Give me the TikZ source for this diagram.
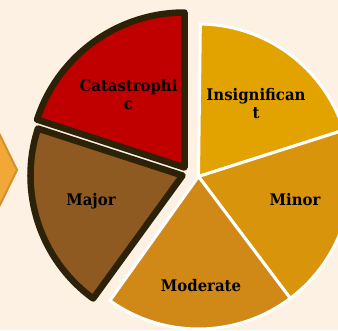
\documentclass[tikz,border=0pt]{standalone}
\usepackage{fontspec}
\setmainfont{DejaVu Serif}
\newfontfamily\labelfont[FakeStretch=0.93]{DejaVu Serif}
\definecolor{paper}{HTML}{FCF1E3}
\definecolor{insig}{HTML}{E2A300}
\definecolor{minorc}{HTML}{D8940A}
\definecolor{moder}{HTML}{D08917}
\definecolor{majorc}{HTML}{8E5A21}
\definecolor{catas}{HTML}{C00000}
\definecolor{rim}{HTML}{2D2207}
\definecolor{tabfill}{HTML}{F2A836}
\definecolor{tabedge}{HTML}{D5902A}
\tikzset{
  plainslice/.style={draw=white, line width=3pt, line join=miter},
  boldslice/.style={draw=rim, line width=6.5pt, line join=round},
  lbl/.style={inner sep=0pt, align=center, text=black,
              font=\labelfont\bfseries\fontsize{16}{18.3}\selectfont}
}
\begin{document}
\begin{tikzpicture}[x=1pt,y=1pt]
  \useasboundingbox (0,0) rectangle (338,-330);
  \clip (0,0) rectangle (338,-330);
  \fill[paper] (0,0) rectangle (338,-330);

  % arrow tab at the left edge
  \draw[fill=tabfill, draw=tabedge, line width=2pt, line join=miter]
    (-40,-94) -- (-20,-94) -- (17,-170) -- (-20,-246) -- (-40,-246) -- cycle;

  % centres of the pie pieces
  \coordinate (C) at (198.5,-176.5);
  \coordinate (Cmaj) at (182.5,-175.5);
  \coordinate (Ccat) at (184.5,-167.5);

  % pieces that stay in place
  \draw[plainslice, fill=insig]  (C) -- ++(89.3:152.5)  arc[start angle=89.3,  end angle=17.7,   radius=152.5] -- cycle;
  \draw[plainslice, fill=minorc] (C) -- ++(17.7:152.5)  arc[start angle=17.7,  end angle=-53,    radius=152.5] -- cycle;
  \draw[plainslice, fill=moder]  (C) -- ++(-53:152.5)   arc[start angle=-53,   end angle=-125.5, radius=152.5] -- cycle;

  % pulled-out pieces with heavy outline
  \draw[boldslice, fill=majorc] (Cmaj) -- ++(162:152) arc[start angle=162, end angle=234, radius=152] -- cycle;
  \draw[boldslice, fill=catas]  (Ccat) -- ++(90:155)  arc[start angle=90,  end angle=162, radius=155] -- cycle;

  % labels
  \node[lbl] (lcat) at (128.5,-94.3) {Catastrophi\\c};
  \node[lbl] (lins) at (256,-103.8) {Insignifican\\t};
  \node[lbl, anchor=base] (lmaj) at (91,-205.7) {Major};
  \node[lbl, anchor=base] (lmin) at (295,-205.7) {Minor};
  \node[lbl, anchor=base] (lmod) at (201,-291.7) {Moderate};
\end{tikzpicture}
\end{document}
